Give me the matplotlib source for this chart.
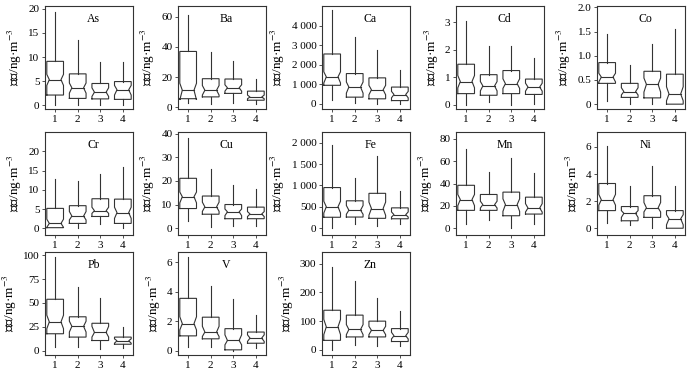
import matplotlib
matplotlib.use("Agg")
import matplotlib.pyplot as plt
from matplotlib.ticker import FuncFormatter

plt.rcParams["font.family"] = ["Liberation Serif", "Noto Sans CJK SC"]
plt.rcParams["mathtext.fontset"] = "stix"

# 元素名称
elements = ["As", "Ba", "Ca", "Cd", "Co", "Cr", "Cu", "Fe", "Mn", "Ni", "Pb", "V", "Zn"]
groups = [1, 2, 3, 4]

# 每个元素四组: 下须, 下四分位, 中位数, 上四分位, 上须, 凹口下限, 凹口上限
whislo = {
    "As": [0, 0, 0, 0], "Ba": [3, 2, 3, 2], "Ca": [200, 50, 20, 0],
    "Cd": [0, 0.1, 0, 0.05], "Co": [0.07, 0, 0, 0], "Cr": [0, 0, 1.1, 0],
    "Cu": [2.9, 0.4, 0.7, 0.7], "Fe": [0, 95, 40, 95], "Mn": [3.9, 7.5, 0, 3.6],
    "Ni": [0.4, 0.25, 0, 0], "Pb": [4.3, 4.3, 1.8, 2.5], "V": [0.27, 0.27, 0, 0.16],
    "Zn": [0, 18, 12, 12],
}
q1 = {
    "As": [2.1, 1.4, 1.3, 1.2], "Ba": [5.8, 7, 9.3, 4.8], "Ca": [950, 345, 260, 170],
    "Cd": [0.41, 0.35, 0.41, 0.38], "Co": [0.43, 0.14, 0.13, 0.0], "Cr": [0.2, 1.3, 3.1, 1.3],
    "Cu": [8.3, 5.9, 4, 4], "Fe": [255, 260, 230, 220], "Mn": [16, 16, 11.2, 12.7],
    "Ni": [1.3, 0.55, 0.8, 0.0], "Pb": [17.7, 14.2, 10.6, 6.7], "V": [1.0, 0.8, 0.05, 0.5],
    "Zn": [33, 45, 45, 29],
}
med = {
    "As": [5.3, 3.6, 2.7, 3.2], "Ba": [11.4, 11.4, 13, 6.9], "Ca": [1380, 860, 720, 480],
    "Cd": [0.85, 0.69, 0.77, 0.65], "Co": [0.56, 0.26, 0.41, 0.21], "Cr": [1.3, 3.2, 4.6, 4.1],
    "Cu": [13.3, 9, 6.9, 6], "Fe": [500, 420, 460, 315], "Mn": [25.7, 21.1, 21.1, 18.1],
    "Ni": [2.1, 1.1, 1.5, 0.7], "Pb": [30.1, 25.5, 19.1, 10.3], "V": [1.83, 1.26, 0.69, 0.85],
    "Zn": [80, 71, 68, 49],
}
q3 = {
    "As": [9.1, 6.5, 4.5, 4.9], "Ba": [37, 19, 18.8, 10.8], "Ca": [2550, 1550, 1330, 860],
    "Cd": [1.48, 1.1, 1.25, 0.94], "Co": [0.86, 0.43, 0.68, 0.62], "Cr": [5.2, 5.9, 7.7, 7.6],
    "Cu": [21.1, 13.6, 10, 8.9], "Fe": [950, 640, 815, 475], "Mn": [38.4, 30.2, 32.3, 27.8],
    "Ni": [3.3, 1.6, 2.4, 1.3], "Pb": [53.9, 35.5, 28.7, 14.2], "V": [3.55, 2.27, 1.49, 1.26],
    "Zn": [138, 121, 100, 74],
}
whishi = {
    "As": [19.4, 13.6, 8.9, 8.9], "Ba": [61, 36.7, 30.7, 18.8], "Ca": [4790, 3400, 2760, 1720],
    "Cd": [3.06, 2.15, 2.15, 1.7], "Co": [1.46, 0.82, 1.25, 1.56], "Cr": [12.7, 12.2, 14.2, 16],
    "Cu": [38.3, 25, 18.1, 16.4], "Fe": [1950, 1185, 1680, 870], "Mn": [70.4, 50.4, 62.5, 49],
    "Ni": [6.1, 3.1, 4.6, 3.1], "Pb": [98.2, 67, 55.7, 24.8], "V": [6.35, 4.4, 3.52, 2.45],
    "Zn": [290, 239, 179, 135],
}
notch_lo = {
    "As": [4.1, 2.5, 1.8, 2.1], "Ba": [5, 8.2, 10.8, 5.8], "Ca": [1070, 550, 465, 310],
    "Cd": [0.62, 0.51, 0.6, 0.5], "Co": [0.46, 0.19, 0.25, 0.07], "Cr": [0.3, 2.2, 3.9, 2.6],
    "Cu": [10.7, 7.1, 5.3, 4.9], "Fe": [355, 325, 300, 260], "Mn": [20.2, 18.1, 15.1, 14.5],
    "Ni": [1.7, 0.8, 1.2, 0.25], "Pb": [23, 19.5, 14.2, 7.8], "V": [1.4, 0.96, 0.39, 0.62],
    "Zn": [53, 53, 53, 38],
}
notch_hi = {
    "As": [6.4, 4.6, 3.6, 4.1], "Ba": [16, 14.5, 15, 8.2], "Ca": [1640, 1120, 950, 640],
    "Cd": [1.07, 0.85, 0.95, 0.79], "Co": [0.64, 0.34, 0.54, 0.36], "Cr": [2.4, 4.4, 5.5, 5.5],
    "Cu": [15.3, 11, 8.1, 7], "Fe": [630, 530, 610, 380], "Mn": [30.2, 24.2, 26.3, 22],
    "Ni": [2.5, 1.3, 1.9, 1.0], "Pb": [37.2, 30.9, 25.5, 12.4], "V": [2.3, 1.65, 1.07, 1.07],
    "Zn": [106, 88, 82, 61],
}

# y 轴范围和刻度
ylims = {
    "As": (-0.8, 20.6), "Ba": (-1, 67), "Ca": (-260, 5000), "Cd": (-0.15, 3.6),
    "Co": (-0.1, 2.03), "Cr": (-1.7, 25), "Cu": (-2.9, 40.7), "Fe": (-160, 2250),
    "Mn": (-6, 86), "Ni": (-0.5, 7.1), "Pb": (-4.6, 103.5), "V": (-0.3, 6.7),
    "Zn": (-18, 341),
}
yticks = {
    "As": [0, 5, 10, 15, 20], "Ba": [0, 20, 40, 60], "Ca": [0, 1000, 2000, 3000, 4000],
    "Cd": [0, 1, 2, 3], "Co": [0, 0.5, 1.0, 1.5, 2.0], "Cr": [0, 5, 10, 15, 20],
    "Cu": [0, 10, 20, 30, 40], "Fe": [0, 500, 1000, 1500, 2000], "Mn": [0, 20, 40, 60, 80],
    "Ni": [0, 2, 4, 6], "Pb": [0, 25, 50, 75, 100], "V": [0, 2, 4, 6],
    "Zn": [0, 100, 200, 300],
}


def fmt_tick(v, pos):
    if v == 0:
        return "0"
    if abs(v) >= 1000:
        return f"{int(v):,}".replace(",", " ")
    if float(v).is_integer():
        return f"{int(v)}"
    return f"{v:.1f}"


def fmt_co(v, pos):
    return "0" if v == 0 else f"{v:.1f}"


def notched_box(ax, p, lo, a, m, b, hi, nlo, nhi, half=0.37, indent=0.3, **kw):
    """画一个带凹口的箱体"""
    inner = half * (1 - indent)
    xs = [p - half, p + half, p + half, p + inner, p + half, p + half,
          p - half, p - half, p - inner, p - half, p - half]
    ys = [a, a, nlo, m, nhi, b, b, nhi, m, nlo, a]
    ax.plot(xs, ys, **kw)
    ax.plot([p - inner, p + inner], [m, m], **kw)
    ax.plot([p, p], [lo, a], **kw)
    ax.plot([p, p], [b, hi], **kw)


fig = plt.figure(figsize=(7, 3.7), dpi=100)

col_left = [45, 178, 322, 456, 597]
row_bottom = [109, 235, 355]
ax_w, ax_h = 88, 103
line_c = "#333333"

for i, el in enumerate(elements):
    r, c = divmod(i, 5)
    ax = fig.add_axes([col_left[c] / 700, 1 - row_bottom[r] / 370, ax_w / 700, ax_h / 370])

    for k, g in enumerate(groups):
        notched_box(ax, g, whislo[el][k], q1[el][k], med[el][k], q3[el][k],
                    whishi[el][k], notch_lo[el][k], notch_hi[el][k],
                    color=line_c, linewidth=0.8, solid_joinstyle="miter")

    ax.set_xlim(0.55, 4.45)
    ax.set_ylim(*ylims[el])
    ax.set_yticks(yticks[el])
    ax.yaxis.set_major_formatter(FuncFormatter(fmt_co if el == "Co" else fmt_tick))
    ax.set_xticks(groups)
    ax.set_xticklabels([str(g) for g in groups])
    ax.tick_params(labelsize=8, length=2, width=0.6, color=line_c, pad=2)
    for s in ax.spines.values():
        s.set_color(line_c)
        s.set_linewidth(0.8)

    ax.text(0.55, 0.87, el, transform=ax.transAxes, ha="center", va="center", fontsize=8.5)
    ax.set_ylabel("浓度/ng·m$^{-3}$", fontsize=9.5, labelpad=3)

fig.savefig("out.png", dpi=100)
